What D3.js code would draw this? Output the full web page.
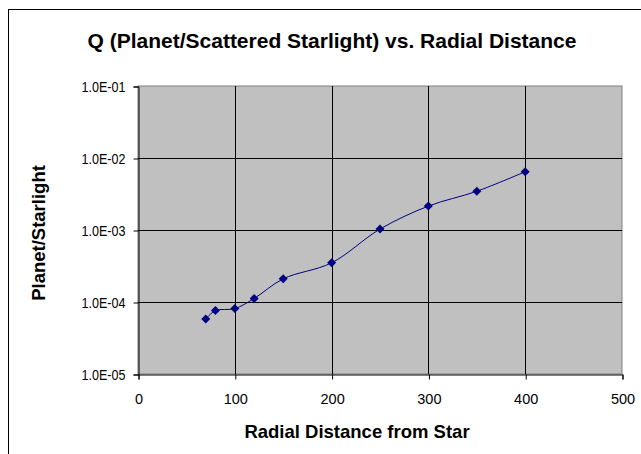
<!DOCTYPE html>
<html><head><meta charset="utf-8">
<script src="https://cdn.jsdelivr.net/npm/d3@7"></script>
<style>
html,body{margin:0;padding:0;background:#fff;}
svg{display:block;font-family:Arial,"Liberation Sans",sans-serif;}
</style></head>
<body>
<script>
const distances = [70, 80, 100, 120, 150, 200, 250, 300, 350, 400];
const ratios = [5.8e-5, 7.6e-5, 8.1e-5, 1.12e-4, 2.1e-4, 3.5e-4, 1.03e-3, 2.15e-3, 3.45e-3, 6.45e-3];
const xTicks = [0, 100, 200, 300, 400, 500];
const yTicks = [1e-5, 1e-4, 1e-3, 1e-2, 1e-1];
const yTickLabels = ["1.0E-05", "1.0E-04", "1.0E-03", "1.0E-02", "1.0E-01"];

const W = 641, H = 454;
const m = {left: 138, top: 86, right: 622, bottom: 374};

const svg = d3.select("body").append("svg").attr("width", W).attr("height", H);

// chart border
svg.append("rect").attr("x", 8.5).attr("y", 9.5).attr("width", W).attr("height", H)
  .attr("fill", "#fff").attr("stroke", "#000").attr("stroke-width", 1);

const x = d3.scaleLinear().domain([0, 500]).range([m.left, m.right]);
const y = d3.scaleLog().domain([1e-5, 1e-1]).range([m.bottom, m.top]);

// plot area
svg.append("rect").attr("x", m.left).attr("y", m.top)
  .attr("width", m.right - m.left).attr("height", m.bottom - m.top)
  .attr("fill", "#c0c0c0").attr("stroke", "#808080").attr("stroke-width", 1);

// gridlines
const g = svg.append("g");
g.selectAll("line.v").data(xTicks.slice(1, -1)).join("line")
  .attr("x1", d => Math.round(x(d)) + 0.5).attr("x2", d => Math.round(x(d)) + 0.5)
  .attr("y1", m.top).attr("y2", m.bottom).attr("stroke", "#000");
g.selectAll("line.h").data(yTicks.slice(1, -1)).join("line")
  .attr("y1", d => Math.round(y(d)) + 0.5).attr("y2", d => Math.round(y(d)) + 0.5)
  .attr("x1", m.left).attr("x2", m.right).attr("stroke", "#000");

// axes
const xAxis = d3.axisBottom(x).tickValues(xTicks).tickSize(5).tickPadding(14).tickFormat(d3.format("d"));
const xa = svg.append("g").attr("transform", `translate(0.5,${m.bottom + 0.5})`).call(xAxis);
const yAxis = d3.axisLeft(y).tickValues(yTicks).tickSize(5).tickPadding(8)
  .tickFormat((d, i) => yTickLabels[i]);
const ya = svg.append("g").attr("transform", `translate(${m.left + 0.5},0.5)`).call(yAxis);
[xa, ya].forEach(a => {
  a.attr("font-size", null).attr("font-family", null);
  a.select(".domain").attr("stroke", "#000");
  a.selectAll(".tick line").attr("stroke", "#000");
  a.selectAll("text").style("font-size", "14.5px").attr("fill", "#000")
    .style("font-family", "Arial, 'Liberation Sans', sans-serif");
});
ya.selectAll("text").attr("textLength", 44).attr("lengthAdjust", "spacingAndGlyphs");

// line
const pts = distances.map((d, i) => [d, ratios[i]]);
const line = d3.line().x(d => x(d[0])).y(d => y(d[1])).curve(d3.curveCatmullRom.alpha(0.5));
svg.append("path").datum(pts).attr("d", line).attr("fill", "none")
  .attr("stroke", "#000080").attr("stroke-width", 1);

// markers
svg.selectAll("path.mk").data(pts).join("path")
  .attr("transform", d => `translate(${x(d[0])},${y(d[1])})`)
  .attr("d", "M0,-4.5L4.5,0L0,4.5L-4.5,0Z").attr("fill", "#000080");

// titles
svg.append("text").attr("x", 332).attr("y", 48).attr("text-anchor", "middle")
  .attr("font-size", 21).attr("font-weight", "bold")
  .text("Q (Planet/Scattered Starlight) vs. Radial Distance");
svg.append("text").attr("x", 357).attr("y", 438).attr("text-anchor", "middle")
  .attr("font-size", 18.5).attr("font-weight", "bold")
  .text("Radial Distance from Star");
svg.append("text").attr("transform", "translate(45,233) rotate(-90)")
  .attr("text-anchor", "middle").attr("font-size", 18.5).attr("font-weight", "bold")
  .text("Planet/Starlight");
</script>
</body></html>
